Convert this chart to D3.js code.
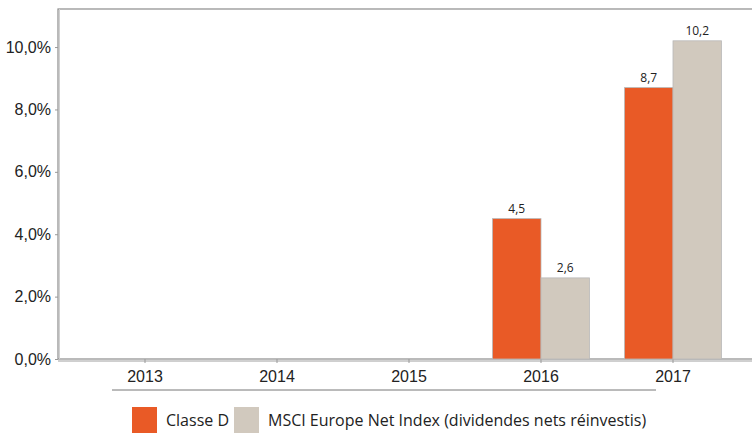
<!DOCTYPE html>
<html><head><meta charset="utf-8">
<script src="https://cdn.jsdelivr.net/npm/d3@7"></script>
<style>body{margin:0;background:#fff;} svg{display:block;font-family:"Open Sans","Noto Sans",sans-serif;}</style>
</head><body>
<svg id="c" width="752" height="447"></svg>
<script>
const years = ["2013","2014","2015","2016","2017"];
const seriesNames = ["Classe D","MSCI Europe Net Index (dividendes nets réinvestis)"];
const classeD = [null,null,null,4.5,8.7];
const msci = [null,null,null,2.6,10.2];
const yTicks = [0,2,4,6,8,10];
const colors = ["#E95A26","#D1C9BE"];

(function(){
const svg = d3.select("#c");
const pL = 58, pT = 9, pB = 359, pR = 760;
const y = d3.scaleLinear().domain([0, 11.22]).range([pB, pT]);
const x = d3.scaleBand().domain(years).range([79, 739]).padding(0);
const groupW = 97;
const xs = d3.scaleBand().domain([0,1]).range([0, groupW]);

// frame
svg.append("rect").attr("x", pL).attr("y", pT).attr("width", pR-pL).attr("height", pB-pT)
  .attr("fill","none").attr("stroke","#8c8c8c").attr("stroke-width",1.2);
svg.append("line").attr("x1", pL+1.5).attr("x2", pL+1.5).attr("y1", pT).attr("y2", pB)
  .attr("stroke","#d0d0d0");
svg.append("line").attr("x1", pL).attr("x2", pR).attr("y1", pB+2).attr("y2", pB+2)
  .attr("stroke","#a0a0a0");

// y axis
const yAxis = d3.axisLeft(y).tickValues(yTicks).tickSize(3).tickPadding(4)
  .tickFormat(d => d3.format(".1f")(d).replace(".", ",") + "%");
const gy = svg.append("g").attr("transform", `translate(${pL},0)`).call(yAxis);
gy.select(".domain").remove();
gy.selectAll("line").attr("stroke","#999");
gy.selectAll("text").attr("font-size", 16).attr("fill","#222");

// x axis
const xAxis = d3.axisBottom(x).tickSize(4).tickPadding(8);
const gx = svg.append("g").attr("transform", `translate(0,${pB})`).call(xAxis);
gx.select(".domain").remove();
gx.selectAll("line").attr("stroke","#999");
gx.selectAll("text").attr("font-size", 16).attr("fill","#222");

// underline
svg.append("line").attr("x1",112).attr("x2",656).attr("y1",390).attr("y2",390)
  .attr("stroke","#777").attr("stroke-width",1);

// bars
const data = [classeD, msci];
data.forEach((arr, si) => {
  years.forEach((yr, i) => {
    const v = arr[i];
    if (v == null) return;
    const cx = x(yr) + x.bandwidth()/2 - groupW/2 + xs(si);
    svg.append("rect").attr("x", cx).attr("y", y(v)).attr("width", xs.bandwidth())
      .attr("height", y(0) - y(v)).attr("fill", colors[si]).attr("stroke","#b8b8b8").attr("stroke-width",0.8);
    svg.append("text").attr("x", cx + xs.bandwidth()/2).attr("y", y(v) - 6)
      .attr("text-anchor","middle").attr("font-size", 12).attr("fill","#222")
      .text(d3.format(".1f")(v).replace(".", ","));
  });
});

// legend
const lg = svg.append("g");
const lx = [132, 234];
seriesNames.forEach((n, i) => {
  lg.append("rect").attr("x", lx[i]).attr("y", 407).attr("width", 25).attr("height", 26)
    .attr("fill", colors[i]);
  lg.append("text").attr("x", lx[i] + 34).attr("y", 426).attr("font-size", 16).attr("fill","#222").text(n);
});
})();
</script>
</body></html>
